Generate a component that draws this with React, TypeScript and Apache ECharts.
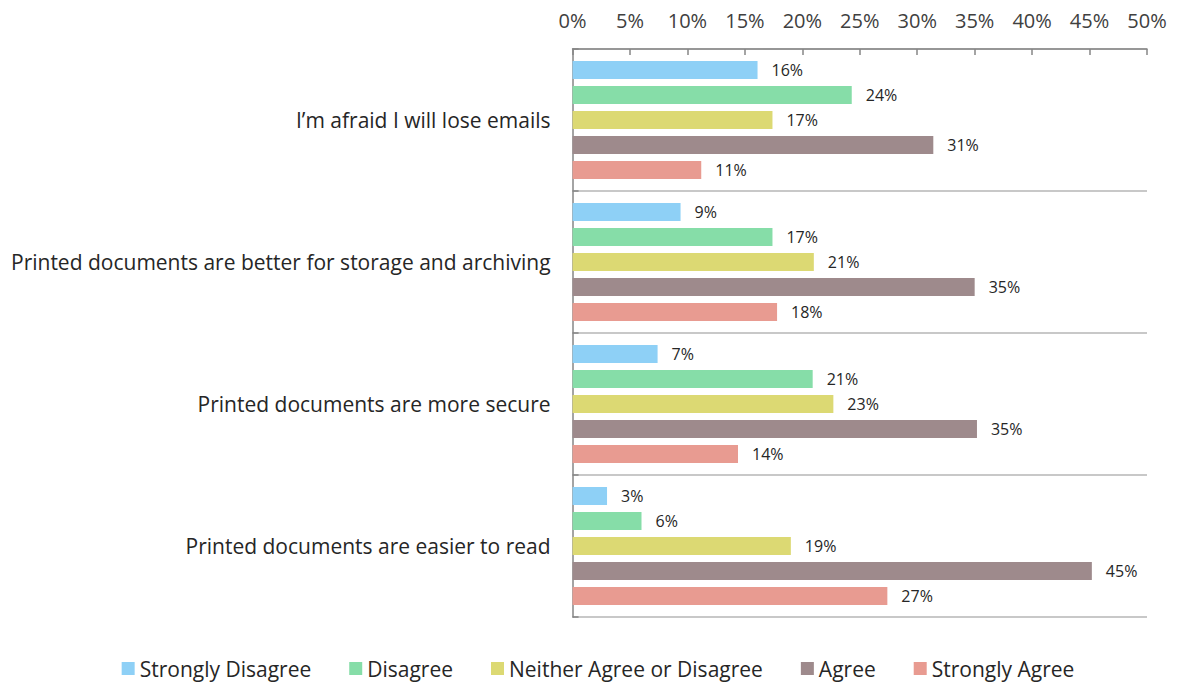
import React, { useEffect, useRef } from "react";
import * as echarts from "echarts";

const categories = [
  "I’m afraid I will lose emails",
  "Printed documents are better for storage and archiving",
  "Printed documents are more secure",
  "Printed documents are easier to read",
];
const seriesNames = [
  "Strongly Disagree",
  "Disagree",
  "Neither Agree or Disagree",
  "Agree",
  "Strongly Agree",
];
const stronglyDisagree = [16.1, 9.4, 7.4, 3.0];
const disagree = [24.3, 17.4, 20.9, 6.0];
const neither = [17.4, 21.0, 22.7, 19.0];
const agree = [31.4, 35.0, 35.2, 45.2];
const stronglyAgree = [11.2, 17.8, 14.4, 27.4];
const colors = ["#8ed0f6", "#86dda8", "#dcd973", "#9e8a8c", "#e89b91"];
const xTicks = [0, 5, 10, 15, 20, 25, 30, 35, 40, 45, 50];

const FONT = "'Open Sans', 'Liberation Sans', sans-serif";

export default function App() {
  const ref = useRef<HTMLDivElement>(null);
  useEffect(() => {
    if (!ref.current) return;
    const chart = echarts.init(ref.current, undefined, { renderer: "svg" });
    const allData = [stronglyDisagree, disagree, neither, agree, stronglyAgree];
    chart.setOption({
      animation: false,
      legend: {
        bottom: 7,
        left: "center",
        itemWidth: 13,
        itemHeight: 13,
        itemGap: 38,
        icon: "rect",
        textStyle: { fontFamily: FONT, fontSize: 21, color: "#262626" },
        data: seriesNames,
      },
      grid: { left: 562, right: 41, top: 41, bottom: 74 },
      xAxis: {
        type: "value",
        position: "top",
        min: xTicks[0],
        max: xTicks[xTicks.length - 1],
        interval: 5,
        axisLine: { show: true, lineStyle: { color: "#868686", width: 1.5 } },
        axisTick: { show: true, inside: true, length: 6, lineStyle: { color: "#868686", width: 1.5 } },
        axisLabel: {
          formatter: (v: number) => v + "%",
          fontFamily: FONT,
          fontSize: 20,
          color: "#404040",
          margin: 19,
        },
        splitLine: { show: false },
      },
      yAxis: {
        type: "category",
        inverse: true,
        data: categories,
        axisLine: { show: true, lineStyle: { color: "#868686", width: 1.5 } },
        axisTick: { show: true, inside: true, length: 6, lineStyle: { color: "#868686", width: 1.5 } },
        axisLabel: { fontFamily: FONT, fontSize: 21, color: "#262626", margin: 22 },
        splitLine: { show: true, lineStyle: { color: "#c8c8c8", width: 2 } },
      },
      series: seriesNames.map((name, i) => ({
        name,
        type: "bar",
        data: allData[i],
        barWidth: 18,
        barGap: "39%",
        barCategoryGap: "17%",
        itemStyle: { color: colors[i] },
        label: {
          show: true,
          position: "right",
          distance: 14,
          formatter: (p: any) => Math.round(p.value) + "%",
          fontFamily: FONT,
          fontSize: 16,
          color: "#262626",
        },
      })),
    });
    return () => chart.dispose();
  }, []);
  return <div ref={ref} style={{ width: 1180, height: 683 }} />;
}
